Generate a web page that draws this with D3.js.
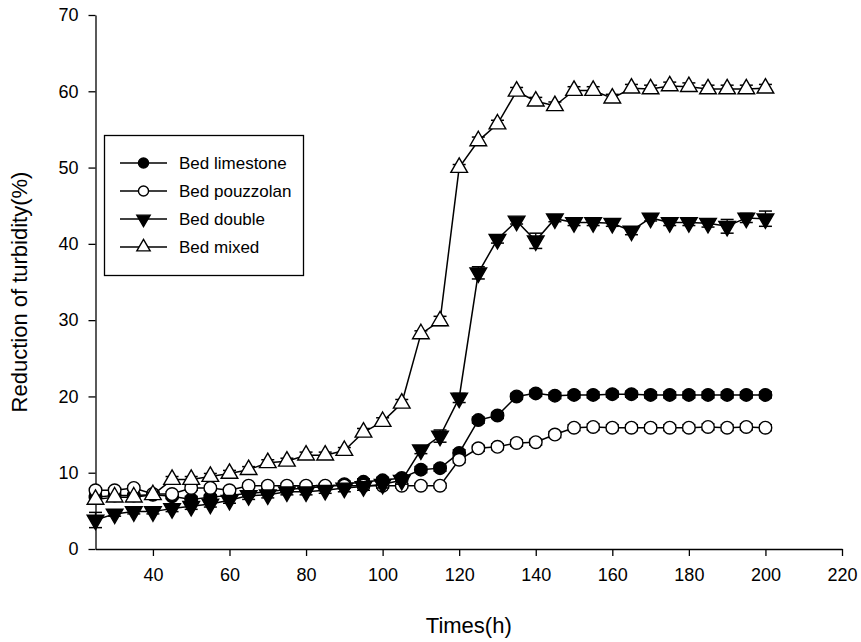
<!DOCTYPE html>
<html>
<head>
<meta charset="utf-8">
<script src="https://cdn.jsdelivr.net/npm/d3@7"></script>
<style>
  body { margin: 0; background: #fff; }
  text { font-family: "Liberation Sans", Arial, sans-serif; }
</style>
</head>
<body>
<svg id="main-chart"></svg>
<script>
// sampling times (h)
const times = [25,30,35,40,45,50,55,60,65,70,75,80,85,90,95,100,105,110,115,120,
               125,130,135,140,145,150,155,160,165,170,175,180,185,190,195,200];

const limestone = [6.8,7.0,7.0,7.1,6.9,6.5,6.8,7.0,7.3,7.5,7.8,8.0,8.2,8.5,8.8,9.0,9.3,10.4,10.6,12.6,
                   16.9,17.5,20.0,20.4,20.1,20.2,20.2,20.3,20.3,20.2,20.2,20.2,20.2,20.2,20.2,20.2];
const limestoneErr = [0.4,0.3,0.3,0.3,0.3,0.4,0.3,0.3,0.3,0.3,0.3,0.3,0.3,0.4,0.4,0.4,0.4,0.4,0.4,0.4,
                      0.4,0.4,0.4,0.4,0.4,0.4,0.4,0.4,0.4,0.4,0.4,0.4,0.4,0.4,0.4,0.4];

const pouzzolan = [7.7,7.7,8.0,7.2,7.2,8.0,8.0,7.7,8.3,8.3,8.3,8.3,8.3,8.3,8.3,8.3,8.3,8.3,8.3,11.7,
                   13.2,13.4,13.9,14.0,15.0,15.9,16.0,15.9,15.9,15.9,15.9,15.9,16.0,15.9,16.0,15.9];
const pouzzolanErr = [0.3,0.3,0.3,0.3,0.3,0.3,0.3,0.3,0.3,0.3,0.3,0.3,0.3,0.3,0.3,0.3,0.3,0.3,0.3,0.4,
                      0.4,0.4,0.4,0.4,0.4,0.4,0.4,0.4,0.4,0.4,0.4,0.4,0.4,0.4,0.4,0.4];

const double = [3.8,4.6,4.9,4.9,5.3,5.6,5.9,6.4,7.0,7.1,7.5,7.5,7.7,8.0,8.2,8.5,9.0,13.0,14.8,19.8,
                36.2,40.6,43.0,40.4,43.3,42.8,42.8,42.7,41.7,43.4,42.8,42.8,42.7,42.3,43.4,43.3];
const doubleErr = [1.0,0.3,0.3,0.3,0.4,0.4,0.4,0.4,0.5,0.4,0.4,0.4,0.4,0.5,0.5,0.5,0.5,0.5,0.8,0.6,
                   0.8,0.5,0.4,1.0,0.4,0.4,0.4,0.4,0.5,0.4,0.4,0.4,0.5,0.9,0.6,1.0];

const mixed = [6.5,6.8,6.8,7.1,9.1,9.1,9.5,9.9,10.4,11.3,11.5,12.3,12.3,12.9,15.3,16.7,19.1,28.2,29.9,50.0,
               53.5,55.7,60.0,58.7,58.1,60.1,60.1,59.1,60.4,60.3,60.7,60.6,60.3,60.3,60.3,60.4];
const mixedErr = [0.4,0.3,0.3,0.3,0.4,0.4,0.4,0.4,0.4,0.4,0.4,0.4,0.4,0.4,0.5,0.5,0.5,0.4,0.6,0.4,
                  0.5,0.5,0.5,0.5,0.5,0.5,0.5,0.5,0.5,0.5,0.5,0.5,0.5,0.5,0.5,0.5];

const seriesNames = ["Bed limestone", "Bed pouzzolan", "Bed double", "Bed mixed"];
const xTicks = [40,60,80,100,120,140,160,180,200,220];
const yTicks = [0,10,20,30,40,50,60,70];

function plotchart() {
  const width = 861, height = 642;
  const margin = ({top: 15, right: 19, bottom: 93, left: 95.5});

  const series = [
    {name: seriesNames[0], vals: limestone, err: limestoneErr, shape: "circle", fill: "#000"},
    {name: seriesNames[1], vals: pouzzolan, err: pouzzolanErr, shape: "circle", fill: "#fff"},
    {name: seriesNames[2], vals: double, err: doubleErr, shape: "down", fill: "#000"},
    {name: seriesNames[3], vals: mixed, err: mixedErr, shape: "up", fill: "#fff"}
  ];

  const x = d3.scaleLinear().domain([25, 220]).range([margin.left, width - margin.right]);
  const y = d3.scaleLinear().domain([0, 70]).range([height - margin.bottom, margin.top]);

  const svg = d3.select("#main-chart")
    .attr("width", width)
    .attr("height", height);

  // axes
  svg.append("g")
    .attr("transform", `translate(0,${y(0)})`)
    .call(d3.axisBottom(x).tickValues(xTicks).tickSize(7).tickPadding(12).tickSizeOuter(0))
    .call(g => g.selectAll("text").attr("font-size", 18).attr("fill", "#000"))
    .call(g => g.selectAll("line, path").attr("stroke", "#000").attr("stroke-width", 1.3));

  svg.append("g")
    .attr("transform", `translate(${x(25)},0)`)
    .call(d3.axisLeft(y).tickValues(yTicks).tickSize(7).tickPadding(10).tickSizeOuter(0))
    .call(g => g.selectAll("text").attr("font-size", 18).attr("fill", "#000"))
    .call(g => g.selectAll("line, path").attr("stroke", "#000").attr("stroke-width", 1.3));

  svg.append("text")
    .attr("x", (x(25) + x(220)) / 2)
    .attr("y", 633)
    .attr("text-anchor", "middle")
    .attr("font-size", 22)
    .text("Times(h)");

  svg.append("text")
    .attr("transform", `translate(27,${(y(0) + y(70)) / 2 + 10}) rotate(-90)`)
    .attr("text-anchor", "middle")
    .attr("font-size", 22)
    .text("Reduction of turbidity(%)");

  function drawMarker(g, s, px, py, scale) {
    if (s.shape === "circle") {
      g.append("circle").attr("cx", px).attr("cy", py).attr("r", 6.3 * scale)
        .attr("fill", s.fill).attr("stroke", "#000").attr("stroke-width", 1.4);
    } else {
      const sym = d3.symbol().type(d3.symbolTriangle).size(120 * scale * scale);
      const rot = s.shape === "down" ? 180 : 0;
      g.append("path").attr("d", sym())
        .attr("transform", `translate(${px},${py}) rotate(${rot})`)
        .attr("fill", s.fill).attr("stroke", "#000").attr("stroke-width", 1.4);
    }
  }

  const line = d3.line().x(d => x(d[0])).y(d => y(d[1]));

  series.forEach(s => {
    const g = svg.append("g");
    const pts = times.map((t, i) => [t, s.vals[i], s.err[i]]);
    // error bars
    pts.forEach(d => {
      const px = x(d[0]);
      g.append("line").attr("x1", px).attr("x2", px)
        .attr("y1", y(d[1] - d[2])).attr("y2", y(d[1] + d[2]))
        .attr("stroke", "#000").attr("stroke-width", 1.3);
      [d[1] - d[2], d[1] + d[2]].forEach(v => {
        g.append("line").attr("x1", px - 6.5).attr("x2", px + 6.5)
          .attr("y1", y(v)).attr("y2", y(v))
          .attr("stroke", "#000").attr("stroke-width", 1.5);
      });
    });
    g.append("path").datum(pts).attr("d", line)
      .attr("fill", "none").attr("stroke", "#000").attr("stroke-width", 1.5);
    pts.forEach(d => drawMarker(g, s, x(d[0]), y(d[1]), 1));
  });

  // legend
  const leg = svg.append("g");
  leg.append("rect").attr("x", 104.5).attr("y", 135.5).attr("width", 199).attr("height", 140)
    .attr("fill", "#fff").attr("stroke", "#000").attr("stroke-width", 1.3);
  series.forEach((s, i) => {
    const ly = 163 + i * 28;
    leg.append("line").attr("x1", 120).attr("x2", 167).attr("y1", ly).attr("y2", ly)
      .attr("stroke", "#000").attr("stroke-width", 1.3);
    drawMarker(leg, s, 143.5, ly, 0.8);
    leg.append("text").attr("x", 179).attr("y", ly + 6).attr("font-size", 17).text(s.name);
  });
}

plotchart();
</script>
</body>
</html>
